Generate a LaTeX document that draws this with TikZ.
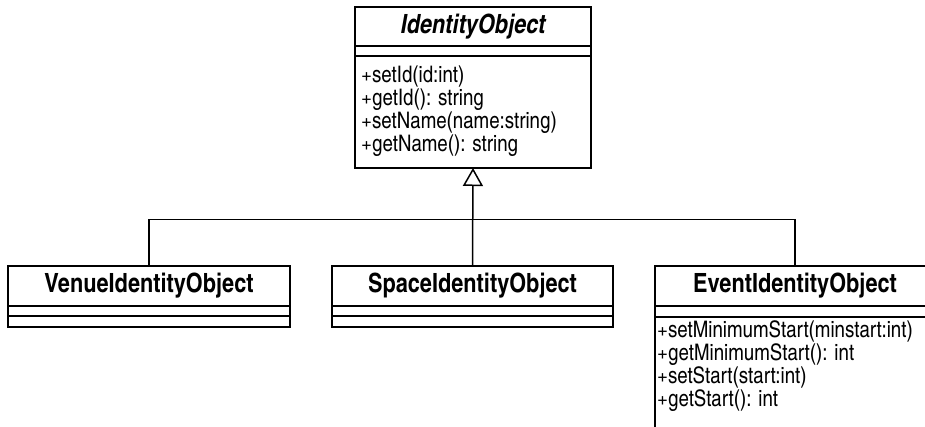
\documentclass[tikz,border=0pt]{standalone}
\usepackage{fontspec}
\setsansfont{texgyreheroscn}[
    Extension=.otf,
    UprightFont=*-regular,
    BoldFont=*-bold,
    ItalicFont=*-italic,
    BoldItalicFont=*-bolditalic]
\usetikzlibrary{arrows.meta,positioning}

\tikzset{
    classname/.style={draw, line width=1.5pt, outer sep=0pt, inner sep=0pt,
        minimum height=40pt, font=\fontsize{26.5}{30}\selectfont\sffamily\bfseries},
    compartment/.style={draw, line width=1.5pt, outer sep=0pt, inner sep=0pt,
        minimum height=10pt},
    opslist/.style={anchor=north west, align=left, inner sep=0pt,
        font=\fontsize{22.8}{23}\selectfont\sffamily},
    inherit/.style={line width=1.5pt,
        -{Triangle[open, width=20pt, length=18pt, line width=1.5pt]}},
    busline/.style={line width=1.5pt}
}

\begin{document}
\begin{tikzpicture}[x=1pt,y=-1pt]
    \useasboundingbox (0,0) rectangle (925,426);
    \clip (0,0) rectangle (925,426);

    % base class
    \node[classname, minimum width=236pt, minimum height=39pt,
          font=\fontsize{26.5}{30}\selectfont\sffamily\bfseries\itshape]
        (ident) at (473,26.5) {IdentityObject};
    \node[compartment, minimum width=236pt, below=0pt of ident] (identattr) {};
    \node[compartment, minimum width=236pt, minimum height=112pt,
          below=0pt of identattr] (identops) {};
    \node[opslist] (identopstext) at ([xshift=6pt,yshift=-10pt]identops.north west)
        {+setId(id:int)\\
         +getId(): string\\
         +setName(name:string)\\
         +getName(): string};

    % subclasses
    \node[classname, minimum width=282pt] (venue) at (149,286) {VenueIdentityObject};
    \node[compartment, minimum width=282pt, below=0pt of venue] (venueattr) {};
    \node[compartment, minimum width=282pt, minimum height=11pt,
          below=0pt of venueattr] (venueops) {};

    \node[classname, minimum width=281pt] (space) at (472.5,286) {SpaceIdentityObject};
    \node[compartment, minimum width=281pt, below=0pt of space] (spaceattr) {};
    \node[compartment, minimum width=281pt, minimum height=11pt,
          below=0pt of spaceattr] (spaceops) {};

    \node[classname, minimum width=280pt] (event) at (795,286) {EventIdentityObject};
    \node[compartment, minimum width=280pt, minimum height=11pt,
          below=0pt of event] (eventattr) {};
    \node[compartment, minimum width=280pt, minimum height=130pt,
          below=0pt of eventattr] (eventops) {};
    \node[opslist] (eventopstext) at ([xshift=2pt,yshift=-3pt]eventops.north west)
        {+setMinimumStart(minstart:int)\\
         +getMinimumStart(): int\\
         +setStart(start:int)\\
         +getStart(): int};

    % generalisation
    \coordinate (bus) at (473,219.5);
    \draw[inherit] (space.north) -- (identops.south);
    \draw[busline] (venue.north) |- (bus) -| (event.north);
\end{tikzpicture}
\end{document}
